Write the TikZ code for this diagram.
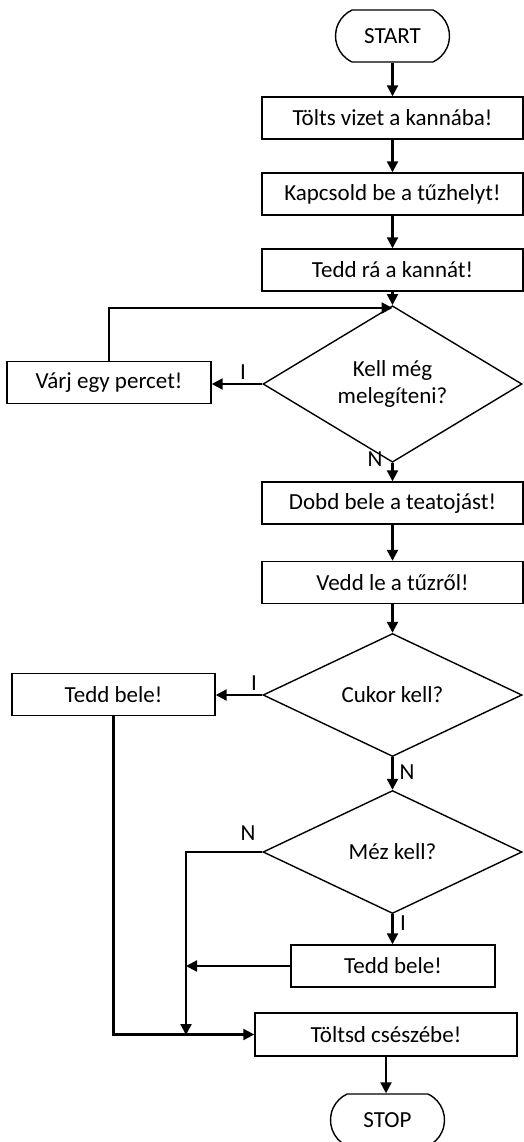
\documentclass[tikz,border=0pt]{standalone}
\usepackage{fontspec}
\setmainfont{Carlito}
\usetikzlibrary{arrows.meta,shapes.geometric,shapes.misc}
\begin{document}
\begin{tikzpicture}[x=1pt,y=-1pt,
  font=\fontsize{23}{27}\selectfont,
  box/.style={draw,line width=1.4pt,minimum height=42pt,inner sep=0pt},
  term/.style={draw,line width=1.4pt,rounded rectangle,rounded rectangle arc length=130,minimum width=114pt,minimum height=52pt,inner sep=0pt},
  dec/.style={draw,line width=1.4pt,diamond,minimum width=259pt,minimum height=123pt,inner sep=0pt,align=center},
  conn/.style={line width=2.2pt,-{Triangle[length=11pt,width=11pt]}},
  lbl/.style={inner sep=0pt}]
\useasboundingbox (0,0) rectangle (524,1142);
\fill[white] (0,0) rectangle (524,1142);
% main column
\node[term] (start) at (392.5,36) {START};
\node[box,minimum width=261pt] (b1) at (392.5,118) {Tölts vizet a kannába!};
\node[box,minimum width=261pt] (b2) at (392.5,194) {Kapcsold be a tűzhelyt!};
\node[box,minimum width=261pt] (b3) at (392.5,270) {Tedd rá a kannát!};
\node[dec] (d1) at (392.5,384) {Kell még\\melegíteni?};
\node[box,minimum width=204pt] (varj) at (109,382.5) {Várj egy percet!};
\node[box,minimum width=261pt] (b4) at (392.5,503) {Dobd bele a teatojást!};
\node[box,minimum width=261pt] (b5) at (392.5,582.5) {Vedd le a tűzről!};
\node[dec] (d2) at (392.5,695) {Cukor kell?};
\node[box,minimum width=203pt] (tb1) at (113.5,694.5) {Tedd bele!};
\node[dec] (d3) at (392.5,852) {Méz kell?};
\node[box,minimum width=204pt] (tb2) at (393,966) {Tedd bele!};
\node[box,minimum width=262pt,minimum height=43pt] (tl) at (386,1034.5) {Töltsd csészébe!};
\node[term] (stop) at (387.5,1120) {STOP};
% labels
\node[lbl] (l1) at (243,372) {I};
\node[lbl] (l2) at (375,459) {N};
\node[lbl] (l3) at (254,683) {I};
\node[lbl] (l4) at (407,772) {N};
\node[lbl] (l5) at (248,833) {N};
\node[lbl] (l6) at (403,923) {I};
% coordinates
\coordinate (loopin) at (392.5,308);
\coordinate (j1) at (186,1035);
% connectors
\draw[conn] (start.south) -- (start.south |- b1.north);
\draw[conn] (b1.south) -- (b2.north);
\draw[conn] (b2.south) -- (b3.north);
\draw[conn] (b3.south) -- (d1.north);
\draw[conn] (d1.west) -- (d1.west -| varj.east);
\draw[conn] (varj.north) |- (loopin);
\draw[conn] (d1.south) -- (b4.north);
\draw[conn] (b4.south) -- (b5.north);
\draw[conn] (b5.south) -- (d2.north);
\draw[conn] (d2.west) -- (d2.west -| tb1.east);
\draw[conn] (d2.south) -- (d3.north);
\draw[conn] (d3.west) -| (j1);
\draw[conn] (d3.south) -- (d3.south |- tb2.north);
\draw[conn] (tb2.west) -- (tb2.west -| j1);
\draw[conn] (tb1.south) |- (tl.west);
\draw[conn] (tl.south) -- (tl.south |- stop.north);
\end{tikzpicture}
\end{document}
